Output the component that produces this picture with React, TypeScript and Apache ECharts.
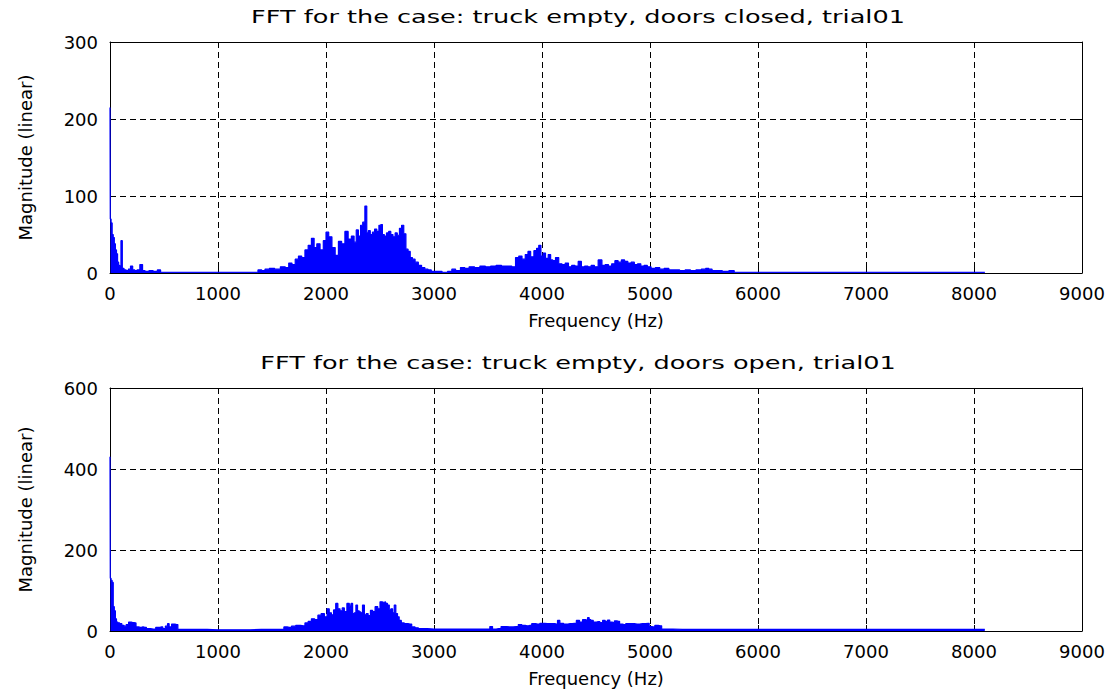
import React, { useEffect, useRef } from "react";
import * as echarts from "echarts";

// ---- Data ----
const closedTitle = "FFT for the case: truck empty, doors closed, trial01";
const openTitle = "FFT for the case: truck empty, doors open, trial01";
const xAxisName = "Frequency (Hz)";
const yAxisName = "Magnitude (linear)";

const xTicks = [0, 1000, 2000, 3000, 4000, 5000, 6000, 7000, 8000, 9000];
const closedYTicks = [0, 100, 200, 300];
const openYTicks = [0, 200, 400, 600];

const closedFreq = [
  0, 5, 15, 25, 35, 45, 55, 65, 75, 85, 95, 108, 120, 140, 160, 180, 200, 220, 240, 260,
  293, 310, 340, 380, 420, 457, 480, 600, 800, 1000, 1200, 1350, 1390, 1420, 1450, 1500, 1550, 1605, 1640, 1670,
  1700, 1730, 1760, 1790, 1820, 1850, 1880, 1900, 1930, 1960, 1990, 2010, 2040, 2070, 2100, 2130, 2160, 2190, 2220, 2250,
  2270, 2290, 2310, 2330, 2350, 2370, 2385, 2400, 2420, 2440, 2460, 2480, 2500, 2515, 2530, 2550, 2570, 2590, 2610, 2630,
  2650, 2670, 2690, 2710, 2730, 2750, 2770, 2790, 2810, 2840, 2870, 2900, 2930, 2960, 2990, 3050, 3100, 3150, 3180, 3220,
  3270, 3300, 3350, 3400, 3450, 3500, 3550, 3600, 3650, 3700, 3740, 3770, 3800, 3830, 3860, 3880, 3910, 3940, 3960, 3980,
  4000, 4020, 4045, 4070, 4090, 4110, 4140, 4170, 4200, 4230, 4260, 4290, 4320, 4350, 4380, 4410, 4440, 4470, 4500, 4540,
  4570, 4600, 4630, 4660, 4690, 4720, 4750, 4780, 4810, 4840, 4870, 4900, 4930, 4960, 4990, 5030, 5070, 5110, 5150, 5200,
  5250, 5300, 5350, 5400, 5450, 5500, 5530, 5560, 5590, 5640, 5700, 5760, 5800, 6000, 6500, 7000, 7500, 8000, 8100,
];
const closedMag = [
  215, 70, 65, 50, 46, 38, 30, 25, 14, 10, 8, 42, 6, 4, 3, 5, 9, 4, 3, 4,
  11, 3, 2, 3, 2, 4, 1, 1, 1, 1, 1, 1, 4, 3, 5, 6, 5, 8, 7, 13,
  11, 18, 22, 20, 30, 36, 45, 33, 38, 30, 42, 53, 47, 33, 23, 41, 38, 54, 44, 48,
  40, 56, 48, 62, 66, 87, 52, 55, 50, 53, 57, 54, 62, 63, 50, 48, 52, 54, 50, 47,
  52, 49, 58, 62, 51, 31, 28, 20, 18, 14, 10, 7, 5, 4, 2, 2, 1, 2, 5, 3,
  7, 6, 8, 7, 9, 8, 9, 10, 9, 9, 8, 20, 22, 18, 24, 28, 21, 29, 32, 36,
  22, 26, 19, 24, 17, 16, 20, 12, 11, 13, 8, 10, 9, 15, 8, 9, 8, 10, 8, 17,
  10, 11, 9, 12, 16, 14, 17, 15, 13, 14, 11, 12, 9, 10, 8, 6, 7, 5, 6, 4,
  4, 3, 4, 3, 4, 5, 6, 5, 3, 3, 2, 3, 1, 1, 1, 1, 1, 1, 1,
];

const openFreq = [
  0, 5, 15, 25, 35, 45, 55, 65, 80, 100, 120, 140, 160, 185, 210, 232, 250, 280, 300, 324,
  350, 400, 447, 478, 500, 525, 540, 555, 586, 617, 640, 800, 1000, 1200, 1400, 1600, 1620, 1660, 1700, 1740,
  1790, 1820, 1850, 1880, 1910, 1940, 1970, 2000, 2020, 2040, 2060, 2080, 2100, 2120, 2140, 2160, 2180, 2207, 2225, 2238,
  2255, 2270, 2284, 2300, 2315, 2330, 2346, 2365, 2380, 2400, 2423, 2440, 2469, 2490, 2510, 2530, 2550, 2562, 2577, 2595,
  2608, 2625, 2639, 2654, 2670, 2685, 2710, 2740, 2778, 2809, 2840, 2870, 3000, 3200, 3400, 3500, 3534, 3550, 3600, 3642,
  3700, 3765, 3796, 3830, 3860, 3889, 3920, 3960, 4000, 4050, 4100, 4136, 4151, 4180, 4220, 4260, 4300, 4336, 4360, 4390,
  4414, 4429, 4445, 4460, 4490, 4520, 4552, 4570, 4600, 4614, 4640, 4660, 4680, 4707, 4730, 4760, 4790, 4830, 4880, 4930,
  4985, 5000, 5030, 5060, 5093, 5123, 5300, 5600, 6000, 6500, 7000, 7500, 8000, 8100,
];
const openMag = [
  430, 130, 125, 120, 60, 50, 30, 22, 20, 18, 14, 12, 16, 22, 21, 20, 10, 9, 10, 9,
  6, 5, 9, 10, 6, 12, 18, 10, 17, 16, 4, 4, 3, 3, 4, 4, 10, 9, 12, 14,
  13, 20, 24, 30, 28, 39, 43, 35, 55, 45, 40, 52, 68, 55, 50, 57, 48, 68, 55, 68,
  43, 45, 64, 50, 47, 45, 64, 40, 43, 38, 51, 48, 60, 55, 72, 71, 72, 68, 64, 50,
  55, 45, 64, 43, 35, 26, 20, 18, 17, 10, 8, 6, 5, 5, 5, 5, 11, 5, 6, 11,
  10, 11, 16, 14, 13, 14, 18, 17, 19, 18, 18, 17, 26, 19, 17, 18, 19, 26, 22, 28,
  27, 33, 28, 26, 22, 23, 21, 26, 24, 27, 22, 21, 25, 24, 17, 16, 18, 18, 17, 18,
  19, 11, 10, 14, 13, 5, 4, 4, 4, 4, 4, 4, 4, 4,
];

const BLUE = "#0000ff";
const FONT = "DejaVu Sans";

function pairs(xs: number[], ys: number[]) {
  return xs.map((x, i) => [x, ys[i]]);
}

export default function App() {
  const ref = useRef<HTMLDivElement>(null);

  useEffect(() => {
    if (!ref.current) return;
    const chart = echarts.init(ref.current, undefined, { renderer: "svg" });

    const grids = [
      { left: 110, right: 38, top: 42, height: 231 },
      { left: 110, right: 38, top: 388, height: 243 },
    ];
    const yTickSets = [closedYTicks, openYTicks];

    const labelStyle = { color: "#000", fontFamily: FONT, fontSize: 18 };
    const gridLine = { show: true, lineStyle: { color: "#000", type: [6, 4] as any, width: 1 } };
    const axisLine = { show: true, onZero: false, lineStyle: { color: "#000", width: 1 } };
    const tickIn = { show: true, inside: true, length: 6, lineStyle: { color: "#000" } };
    const plain = (v: number) => String(v);

    const xAxis: any[] = [];
    const yAxis: any[] = [];
    grids.forEach((_, g) => {
      xAxis.push({
        type: "value",
        gridIndex: g,
        position: "bottom",
        min: xTicks[0],
        max: xTicks[xTicks.length - 1],
        interval: xTicks[1] - xTicks[0],
        axisLine,
        axisTick: tickIn,
        splitLine: gridLine,
        axisLabel: { ...labelStyle, margin: 11, formatter: plain },
        name: xAxisName,
        nameLocation: "middle",
        nameGap: 38,
        nameTextStyle: labelStyle,
      });
      xAxis.push({
        type: "value",
        gridIndex: g,
        position: "top",
        min: xTicks[0],
        max: xTicks[xTicks.length - 1],
        interval: xTicks[1] - xTicks[0],
        axisLine,
        axisTick: tickIn,
        splitLine: { show: false },
        axisLabel: { show: false },
      });
      const yt = yTickSets[g];
      yAxis.push({
        type: "value",
        gridIndex: g,
        position: "left",
        min: yt[0],
        max: yt[yt.length - 1],
        interval: yt[1] - yt[0],
        axisLine,
        axisTick: tickIn,
        splitLine: gridLine,
        axisLabel: { ...labelStyle, margin: 12, formatter: plain },
        name: yAxisName,
        nameLocation: "middle",
        nameRotate: 90,
        nameGap: 76,
        nameTextStyle: labelStyle,
      });
      yAxis.push({
        type: "value",
        gridIndex: g,
        position: "right",
        min: yt[0],
        max: yt[yt.length - 1],
        interval: yt[1] - yt[0],
        axisLine,
        axisTick: tickIn,
        splitLine: { show: false },
        axisLabel: { show: false },
      });
    });

    const mkSeries = (xs: number[], ys: number[], g: number) => ({
      type: "line",
      xAxisIndex: g * 2,
      yAxisIndex: g * 2,
      data: pairs(xs, ys),
      step: "middle",
      symbol: "none",
      lineStyle: { color: BLUE, width: 1.2 },
      areaStyle: { color: BLUE, opacity: 1 },
      z: 1,
    });

    const titleText = (text: string, cy: number) => ({
      type: "text",
      x: 578,
      y: cy,
      scaleX: 1.42,
      style: {
        text,
        fill: "#000",
        font: `18px "${FONT}"`,
        textAlign: "center",
        textVerticalAlign: "middle",
      },
    });

    chart.setOption({
      animation: false,
      backgroundColor: "#fff",
      graphic: [titleText(closedTitle, 16), titleText(openTitle, 362)],
      grid: grids,
      xAxis,
      yAxis,
      series: [mkSeries(closedFreq, closedMag, 0), mkSeries(openFreq, openMag, 1)],
    });

    return () => chart.dispose();
  }, []);

  return <div ref={ref} style={{ width: 1120, height: 697, position: "absolute", left: 0, top: 0 }} />;
}
